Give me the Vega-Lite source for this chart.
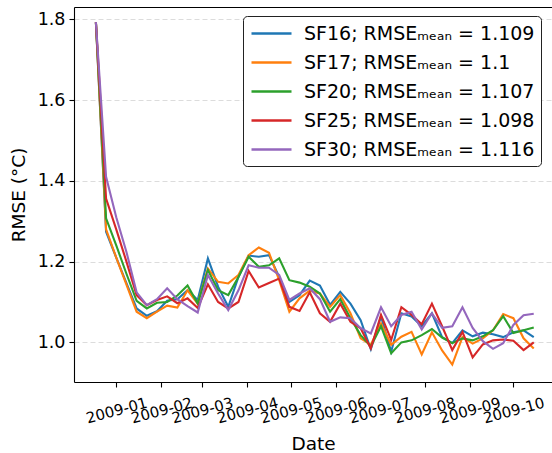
{
  "$schema": "https://vega.github.io/schema/vega-lite/v6.json",
  "autosize": {"type": "none"},
  "padding": {"left": 74, "top": 7, "right": 0, "bottom": 71},
  "width": 478,
  "height": 375,
  "background": "white",
  "config": {
    "font": "DejaVu Sans",
    "view": {"stroke": null},
    "axis": {
      "labelFont": "DejaVu Sans",
      "titleFont": "DejaVu Sans",
      "labelColor": "#000000",
      "titleColor": "#000000",
      "titleFontWeight": "normal",
      "domainColor": "#000000",
      "tickColor": "#000000",
      "tickSize": 5,
      "tickWidth": 1.1,
      "domainWidth": 1.1
    }
  },
  "data": {
    "values": [
      {"date":"2008-12-18","model":"SF16","rmse":1.793},{"date":"2008-12-25","model":"SF16","rmse":1.274},{"date":"2009-01-01","model":"SF16","rmse":1.21},{"date":"2009-01-08","model":"SF16","rmse":1.147},{"date":"2009-01-15","model":"SF16","rmse":1.084},{"date":"2009-01-22","model":"SF16","rmse":1.066},{"date":"2009-01-29","model":"SF16","rmse":1.077},{"date":"2009-02-05","model":"SF16","rmse":1.103},{"date":"2009-02-12","model":"SF16","rmse":1.107},{"date":"2009-02-19","model":"SF16","rmse":1.129},{"date":"2009-02-26","model":"SF16","rmse":1.105},{"date":"2009-03-05","model":"SF16","rmse":1.208},{"date":"2009-03-12","model":"SF16","rmse":1.138},{"date":"2009-03-19","model":"SF16","rmse":1.088},{"date":"2009-03-26","model":"SF16","rmse":1.162},{"date":"2009-04-02","model":"SF16","rmse":1.215},{"date":"2009-04-09","model":"SF16","rmse":1.212},{"date":"2009-04-16","model":"SF16","rmse":1.216},{"date":"2009-04-23","model":"SF16","rmse":1.162},{"date":"2009-04-30","model":"SF16","rmse":1.1},{"date":"2009-05-07","model":"SF16","rmse":1.117},{"date":"2009-05-14","model":"SF16","rmse":1.153},{"date":"2009-05-21","model":"SF16","rmse":1.141},{"date":"2009-05-28","model":"SF16","rmse":1.093},{"date":"2009-06-04","model":"SF16","rmse":1.125},{"date":"2009-06-11","model":"SF16","rmse":1.096},{"date":"2009-06-18","model":"SF16","rmse":1.055},{"date":"2009-06-25","model":"SF16","rmse":0.983},{"date":"2009-07-02","model":"SF16","rmse":1.064},{"date":"2009-07-09","model":"SF16","rmse":0.977},{"date":"2009-07-16","model":"SF16","rmse":1.072},{"date":"2009-07-23","model":"SF16","rmse":1.064},{"date":"2009-07-30","model":"SF16","rmse":1.04},{"date":"2009-08-06","model":"SF16","rmse":1.072},{"date":"2009-08-13","model":"SF16","rmse":1.013},{"date":"2009-08-20","model":"SF16","rmse":0.998},{"date":"2009-08-27","model":"SF16","rmse":1.03},{"date":"2009-09-03","model":"SF16","rmse":1.015},{"date":"2009-09-10","model":"SF16","rmse":1.024},{"date":"2009-09-17","model":"SF16","rmse":1.02},{"date":"2009-09-24","model":"SF16","rmse":1.013},{"date":"2009-10-01","model":"SF16","rmse":1.025},{"date":"2009-10-08","model":"SF16","rmse":1.03},{"date":"2009-10-15","model":"SF16","rmse":1.013},
      {"date":"2008-12-18","model":"SF17","rmse":1.793},{"date":"2008-12-25","model":"SF17","rmse":1.28},{"date":"2009-01-01","model":"SF17","rmse":1.21},{"date":"2009-01-08","model":"SF17","rmse":1.143},{"date":"2009-01-15","model":"SF17","rmse":1.076},{"date":"2009-01-22","model":"SF17","rmse":1.06},{"date":"2009-01-29","model":"SF17","rmse":1.076},{"date":"2009-02-05","model":"SF17","rmse":1.091},{"date":"2009-02-12","model":"SF17","rmse":1.086},{"date":"2009-02-19","model":"SF17","rmse":1.129},{"date":"2009-02-26","model":"SF17","rmse":1.096},{"date":"2009-03-05","model":"SF17","rmse":1.183},{"date":"2009-03-12","model":"SF17","rmse":1.15},{"date":"2009-03-19","model":"SF17","rmse":1.146},{"date":"2009-03-26","model":"SF17","rmse":1.167},{"date":"2009-04-02","model":"SF17","rmse":1.216},{"date":"2009-04-09","model":"SF17","rmse":1.235},{"date":"2009-04-16","model":"SF17","rmse":1.222},{"date":"2009-04-23","model":"SF17","rmse":1.154},{"date":"2009-04-30","model":"SF17","rmse":1.076},{"date":"2009-05-07","model":"SF17","rmse":1.109},{"date":"2009-05-14","model":"SF17","rmse":1.128},{"date":"2009-05-21","model":"SF17","rmse":1.121},{"date":"2009-05-28","model":"SF17","rmse":1.088},{"date":"2009-06-04","model":"SF17","rmse":1.117},{"date":"2009-06-11","model":"SF17","rmse":1.072},{"date":"2009-06-18","model":"SF17","rmse":1.01},{"date":"2009-06-25","model":"SF17","rmse":0.994},{"date":"2009-07-02","model":"SF17","rmse":1.047},{"date":"2009-07-09","model":"SF17","rmse":0.994},{"date":"2009-07-16","model":"SF17","rmse":1.014},{"date":"2009-07-23","model":"SF17","rmse":1.026},{"date":"2009-07-30","model":"SF17","rmse":0.97},{"date":"2009-08-06","model":"SF17","rmse":1.025},{"date":"2009-08-13","model":"SF17","rmse":0.98},{"date":"2009-08-20","model":"SF17","rmse":0.945},{"date":"2009-08-27","model":"SF17","rmse":1.013},{"date":"2009-09-03","model":"SF17","rmse":0.997},{"date":"2009-09-10","model":"SF17","rmse":1.01},{"date":"2009-09-17","model":"SF17","rmse":1.03},{"date":"2009-09-24","model":"SF17","rmse":1.07},{"date":"2009-10-01","model":"SF17","rmse":1.06},{"date":"2009-10-08","model":"SF17","rmse":1.01},{"date":"2009-10-15","model":"SF17","rmse":0.985},
      {"date":"2008-12-18","model":"SF20","rmse":1.793},{"date":"2008-12-25","model":"SF20","rmse":1.307},{"date":"2009-01-01","model":"SF20","rmse":1.24},{"date":"2009-01-08","model":"SF20","rmse":1.17},{"date":"2009-01-15","model":"SF20","rmse":1.103},{"date":"2009-01-22","model":"SF20","rmse":1.084},{"date":"2009-01-29","model":"SF20","rmse":1.098},{"date":"2009-02-05","model":"SF20","rmse":1.1},{"date":"2009-02-12","model":"SF20","rmse":1.116},{"date":"2009-02-19","model":"SF20","rmse":1.141},{"date":"2009-02-26","model":"SF20","rmse":1.096},{"date":"2009-03-05","model":"SF20","rmse":1.179},{"date":"2009-03-12","model":"SF20","rmse":1.129},{"date":"2009-03-19","model":"SF20","rmse":1.117},{"date":"2009-03-26","model":"SF20","rmse":1.162},{"date":"2009-04-02","model":"SF20","rmse":1.212},{"date":"2009-04-09","model":"SF20","rmse":1.187},{"date":"2009-04-16","model":"SF20","rmse":1.191},{"date":"2009-04-23","model":"SF20","rmse":1.208},{"date":"2009-04-30","model":"SF20","rmse":1.154},{"date":"2009-05-07","model":"SF20","rmse":1.148},{"date":"2009-05-14","model":"SF20","rmse":1.138},{"date":"2009-05-21","model":"SF20","rmse":1.121},{"date":"2009-05-28","model":"SF20","rmse":1.076},{"date":"2009-06-04","model":"SF20","rmse":1.107},{"date":"2009-06-11","model":"SF20","rmse":1.06},{"date":"2009-06-18","model":"SF20","rmse":1.018},{"date":"2009-06-25","model":"SF20","rmse":0.99},{"date":"2009-07-02","model":"SF20","rmse":1.04},{"date":"2009-07-09","model":"SF20","rmse":0.973},{"date":"2009-07-16","model":"SF20","rmse":1.0},{"date":"2009-07-23","model":"SF20","rmse":1.005},{"date":"2009-07-30","model":"SF20","rmse":1.018},{"date":"2009-08-06","model":"SF20","rmse":1.033},{"date":"2009-08-13","model":"SF20","rmse":1.012},{"date":"2009-08-20","model":"SF20","rmse":0.998},{"date":"2009-08-27","model":"SF20","rmse":1.01},{"date":"2009-09-03","model":"SF20","rmse":1.005},{"date":"2009-09-10","model":"SF20","rmse":1.015},{"date":"2009-09-17","model":"SF20","rmse":1.03},{"date":"2009-09-24","model":"SF20","rmse":1.065},{"date":"2009-10-01","model":"SF20","rmse":1.023},{"date":"2009-10-08","model":"SF20","rmse":1.03},{"date":"2009-10-15","model":"SF20","rmse":1.037},
      {"date":"2008-12-18","model":"SF25","rmse":1.793},{"date":"2008-12-25","model":"SF25","rmse":1.356},{"date":"2009-01-01","model":"SF25","rmse":1.28},{"date":"2009-01-08","model":"SF25","rmse":1.2},{"date":"2009-01-15","model":"SF25","rmse":1.117},{"date":"2009-01-22","model":"SF25","rmse":1.092},{"date":"2009-01-29","model":"SF25","rmse":1.105},{"date":"2009-02-05","model":"SF25","rmse":1.114},{"date":"2009-02-12","model":"SF25","rmse":1.097},{"date":"2009-02-19","model":"SF25","rmse":1.109},{"date":"2009-02-26","model":"SF25","rmse":1.085},{"date":"2009-03-05","model":"SF25","rmse":1.144},{"date":"2009-03-12","model":"SF25","rmse":1.1},{"date":"2009-03-19","model":"SF25","rmse":1.084},{"date":"2009-03-26","model":"SF25","rmse":1.1},{"date":"2009-04-02","model":"SF25","rmse":1.177},{"date":"2009-04-09","model":"SF25","rmse":1.136},{"date":"2009-04-16","model":"SF25","rmse":1.147},{"date":"2009-04-23","model":"SF25","rmse":1.158},{"date":"2009-04-30","model":"SF25","rmse":1.088},{"date":"2009-05-07","model":"SF25","rmse":1.078},{"date":"2009-05-14","model":"SF25","rmse":1.124},{"date":"2009-05-21","model":"SF25","rmse":1.072},{"date":"2009-05-28","model":"SF25","rmse":1.051},{"date":"2009-06-04","model":"SF25","rmse":1.096},{"date":"2009-06-11","model":"SF25","rmse":1.051},{"date":"2009-06-18","model":"SF25","rmse":1.035},{"date":"2009-06-25","model":"SF25","rmse":0.985},{"date":"2009-07-02","model":"SF25","rmse":1.068},{"date":"2009-07-09","model":"SF25","rmse":1.006},{"date":"2009-07-16","model":"SF25","rmse":1.087},{"date":"2009-07-23","model":"SF25","rmse":1.068},{"date":"2009-07-30","model":"SF25","rmse":1.045},{"date":"2009-08-06","model":"SF25","rmse":1.096},{"date":"2009-08-13","model":"SF25","rmse":1.04},{"date":"2009-08-20","model":"SF25","rmse":0.981},{"date":"2009-08-27","model":"SF25","rmse":1.026},{"date":"2009-09-03","model":"SF25","rmse":0.963},{"date":"2009-09-10","model":"SF25","rmse":0.995},{"date":"2009-09-17","model":"SF25","rmse":1.005},{"date":"2009-09-24","model":"SF25","rmse":1.007},{"date":"2009-10-01","model":"SF25","rmse":1.004},{"date":"2009-10-08","model":"SF25","rmse":0.981},{"date":"2009-10-15","model":"SF25","rmse":1.0},
      {"date":"2008-12-18","model":"SF30","rmse":1.793},{"date":"2008-12-25","model":"SF30","rmse":1.41},{"date":"2009-01-01","model":"SF30","rmse":1.31},{"date":"2009-01-08","model":"SF30","rmse":1.224},{"date":"2009-01-15","model":"SF30","rmse":1.124},{"date":"2009-01-22","model":"SF30","rmse":1.092},{"date":"2009-01-29","model":"SF30","rmse":1.107},{"date":"2009-02-05","model":"SF30","rmse":1.134},{"date":"2009-02-12","model":"SF30","rmse":1.107},{"date":"2009-02-19","model":"SF30","rmse":1.09},{"date":"2009-02-26","model":"SF30","rmse":1.074},{"date":"2009-03-05","model":"SF30","rmse":1.167},{"date":"2009-03-12","model":"SF30","rmse":1.121},{"date":"2009-03-19","model":"SF30","rmse":1.08},{"date":"2009-03-26","model":"SF30","rmse":1.129},{"date":"2009-04-02","model":"SF30","rmse":1.191},{"date":"2009-04-09","model":"SF30","rmse":1.185},{"date":"2009-04-16","model":"SF30","rmse":1.185},{"date":"2009-04-23","model":"SF30","rmse":1.167},{"date":"2009-04-30","model":"SF30","rmse":1.105},{"date":"2009-05-07","model":"SF30","rmse":1.121},{"date":"2009-05-14","model":"SF30","rmse":1.134},{"date":"2009-05-21","model":"SF30","rmse":1.107},{"date":"2009-05-28","model":"SF30","rmse":1.051},{"date":"2009-06-04","model":"SF30","rmse":1.062},{"date":"2009-06-11","model":"SF30","rmse":1.06},{"date":"2009-06-18","model":"SF30","rmse":1.035},{"date":"2009-06-25","model":"SF30","rmse":1.022},{"date":"2009-07-02","model":"SF30","rmse":1.087},{"date":"2009-07-09","model":"SF30","rmse":1.04},{"date":"2009-07-16","model":"SF30","rmse":1.068},{"date":"2009-07-23","model":"SF30","rmse":1.076},{"date":"2009-07-30","model":"SF30","rmse":1.032},{"date":"2009-08-06","model":"SF30","rmse":1.072},{"date":"2009-08-13","model":"SF30","rmse":1.036},{"date":"2009-08-20","model":"SF30","rmse":1.04},{"date":"2009-08-27","model":"SF30","rmse":1.087},{"date":"2009-09-03","model":"SF30","rmse":1.036},{"date":"2009-09-10","model":"SF30","rmse":1.003},{"date":"2009-09-17","model":"SF30","rmse":0.984},{"date":"2009-09-24","model":"SF30","rmse":0.998},{"date":"2009-10-01","model":"SF30","rmse":1.043},{"date":"2009-10-08","model":"SF30","rmse":1.067},{"date":"2009-10-15","model":"SF30","rmse":1.071}
    ]
  },
  "layer": [
    {
      "mark": {"type": "line", "strokeWidth": 2.1, "clip": true},
      "encoding": {
        "x": {
          "field": "date",
          "type": "temporal",
          "scale": {
            "type": "utc",
            "domain": [
              {"year": 2008, "month": 12, "date": 2, "hours": 22, "minutes": 48, "utc": true},
              {"year": 2009, "month": 10, "date": 27, "hours": 13, "minutes": 12, "utc": true}
            ]
          },
          "axis": {
            "title": "Date",
            "titleFontSize": 18.5,
            "titlePadding": 9,
            "labelFontSize": 15,
            "labelAngle": -15,
            "labelAlign": "center",
            "labelBaseline": "middle",
            "labelPadding": 23,
            "labelExpr": "utcFormat(datum.value, '%Y-%m')",
            "tickCount": {"interval": "month", "step": 1},
            "labelOverlap": false,
            "labelFlush": false,
            "grid": false
          }
        },
        "y": {
          "field": "rmse",
          "type": "quantitative",
          "scale": {"domain": [0.9019, 1.8305], "nice": false, "zero": false},
          "axis": {
            "title": "RMSE (°C)",
            "titleFontSize": 18.5,
            "titlePadding": 9,
            "labelFontSize": 17.5,
            "labelPadding": 4,
            "values": [1.0, 1.2, 1.4, 1.6, 1.8],
            "format": ".1f",
            "grid": true,
            "gridColor": "#dcdcdc",
            "gridDash": [5, 3],
            "gridWidth": 1
          }
        },
        "color": {
          "field": "model",
          "type": "nominal",
          "scale": {
            "domain": ["SF16", "SF17", "SF20", "SF25", "SF30"],
            "range": ["#1f77b4", "#ff7f0e", "#2ca02c", "#d62728", "#9467bd"]
          },
          "legend": {
            "title": null,
            "orient": "none",
            "legendX": 169,
            "legendY": 9,
            "symbolType": "M-2,0H2",
            "symbolSize": 400,
            "symbolStrokeWidth": 2.5,
            "symbolOffset": 11,
            "labelFont": "DejaVu Sans",
            "labelFontSize": 19,
            "labelColor": "#000000",
            "labelOffset": 21,
            "labelLimit": 400,
            "rowPadding": 7,
            "padding": 6,
            "strokeColor": "#222222",
            "fillColor": "#ffffff",
            "cornerRadius": 4,
            "labelExpr": "datum.label + '; RMSEₘₑₐₙ = ' + (datum.label == 'SF16' ? '1.109' : datum.label == 'SF17' ? '1.1' : datum.label == 'SF20' ? '1.107' : datum.label == 'SF25' ? '1.098' : '1.116')"
          }
        }
      }
    },
    {
      "mark": {"type": "rule", "opacity": 0},
      "encoding": {
        "x": {
          "field": "date",
          "type": "temporal",
          "axis": {"orient": "top", "labels": false, "ticks": false, "title": null, "domain": true, "grid": false}
        }
      }
    }
  ],
  "resolve": {"axis": {"x": "independent"}}
}
